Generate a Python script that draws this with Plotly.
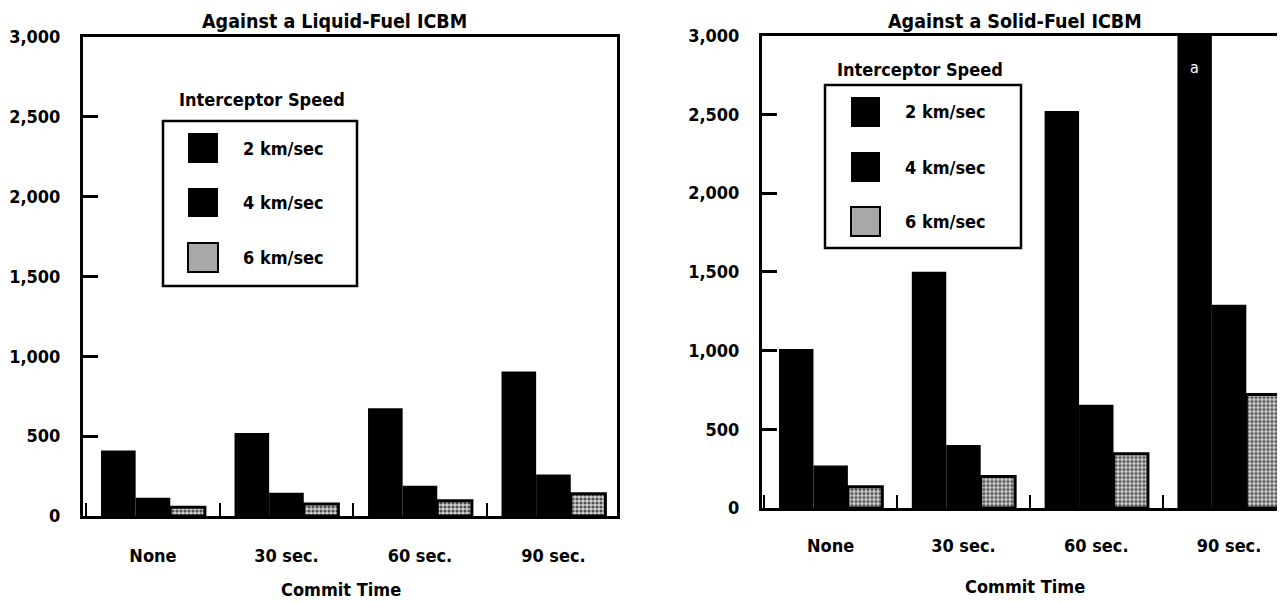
import plotly.graph_objects as go

# ---------------- data ----------------
categories = ["None", "30 sec.", "60 sec.", "90 sec."]
speeds = ["2 km/sec", "4 km/sec", "6 km/sec"]
liquid_2 = [410, 520, 675, 905]
liquid_4 = [115, 145, 190, 260]
liquid_6 = [55, 75, 95, 140]
solid_2 = [1010, 1500, 2520, 3000]   # last value off scale (footnote a)
solid_4 = [270, 400, 655, 1290]
solid_6 = [135, 200, 345, 720]
y_tickvals = [0, 500, 1000, 1500, 2000, 2500, 3000]
y_ticktext = ["0", "500", "1,000", "1,500", "2,000", "2,500", "3,000"]
titles = ["Against a Liquid-Fuel ICBM", "Against a Solid-Fuel ICBM"]
x_title = "Commit Time"
legend_title = "Interceptor Speed"
footnote = "a"

# ---------------- layout constants ----------------
OFF = 8                      # page offset of the plot div
W, H = 1285 - OFF, 602 - OFF
FONT = "DejaVu Sans Condensed, DejaVu Sans, sans-serif"
BARGAP = 0.222


def px(x):
    return (x - OFF) / W


def py(y):
    return 1 - (y - OFF) / H


GRAY = "#a8a8a8"


def bar_style(i):
    if i < 2:
        return dict(color="black", line=dict(width=0))
    return dict(color=GRAY, line=dict(color="black", width=3),
                pattern=dict(shape=".", fgcolor="#505050", bgcolor="#d2d2d2",
                             size=4, solidity=0.5))


fig = go.Figure()
panels = [
    ([liquid_2, liquid_4, liquid_6], "x", "y"),
    ([solid_2, solid_4, solid_6], "x2", "y2"),
]
for series, xa, ya in panels:
    for i, vals in enumerate(series):
        fig.add_trace(go.Bar(x=categories, y=vals, name=speeds[i], xaxis=xa, yaxis=ya,
                             marker=bar_style(i), showlegend=False, hoverinfo="x+y+name"))

axis_common = dict(showline=True, linecolor="black", showgrid=False, zeroline=False,
                   tickcolor="black", automargin=False)
fig.update_layout(
    template="none",
    width=W, height=H, autosize=False,
    margin=dict(l=0, r=0, t=0, b=0, pad=0),
    showlegend=False,
    paper_bgcolor="white", plot_bgcolor="white",
    font=dict(family=FONT, size=18, color="black", weight="bold"),
    barmode="group", bargap=BARGAP, bargroupgap=0,
    xaxis=dict(axis_common, domain=[px(83), px(617)], range=[-0.524, 3.476],
               type="category", tickson="boundaries", ticks="inside", ticklen=13,
               tickwidth=2, linewidth=3, mirror=True, ticklabelstandoff=21, anchor="y"),
    yaxis=dict(axis_common, domain=[py(516), py(37)], range=[0, 3000],
               tickvals=y_tickvals, ticktext=y_ticktext, ticks="inside", ticklen=15,
               tickwidth=2.5, linewidth=3, mirror=True, ticklabelstandoff=16, anchor="x"),
    xaxis2=dict(axis_common, domain=[px(762), 1], range=[-0.517, 3.421],
                type="category", tickson="boundaries", ticks="inside", ticklen=13,
                tickwidth=2, linewidth=3, mirror=True, ticklabelstandoff=19, anchor="y2"),
    yaxis2=dict(axis_common, domain=[py(508), py(35.5)], range=[0, 3000],
                tickvals=y_tickvals, ticktext=y_ticktext, ticks="inside", ticklen=15,
                tickwidth=2.5, linewidth=3, mirror=False, ticklabelstandoff=16, anchor="x2"),
)

annotations = []
shapes = []
# titles (anchored to the top of the figure so they are never clipped)
for t, cx in zip(titles, [334, 1015]):
    annotations.append(dict(text=t, x=px(cx), y=1, xref="paper", yref="paper",
                            showarrow=False, xanchor="center", yanchor="top",
                            font=dict(size=19.5)))
# axis titles
for cx, cy in [(341, 589), (1025, 586)]:
    annotations.append(dict(text=x_title, x=px(cx), y=py(cy), xref="paper", yref="paper",
                            showarrow=False, xanchor="center", yanchor="middle"))

# legends (drawn)
legends = [
    dict(box=(163, 121, 357, 286), title=(262, 100), sq_x=(188, 218),
         rows=[(133, 163), (188, 217), (243, 272)], text_x=241),
    dict(box=(825, 85, 1021, 248), title=(920, 70), sq_x=(851, 880),
         rows=[(97, 127), (152, 182), (207, 236)], text_x=903),
]
for lg in legends:
    x0, y0, x1, y1 = lg["box"]
    shapes.append(dict(type="rect", xref="paper", yref="paper", x0=px(x0), x1=px(x1),
                       y0=py(y1), y1=py(y0), line=dict(color="black", width=2.5),
                       fillcolor="white", layer="above"))
    annotations.append(dict(text=legend_title, x=px(lg["title"][0]), y=py(lg["title"][1]),
                            xref="paper", yref="paper", showarrow=False,
                            xanchor="center", yanchor="middle"))
    for i, (ry0, ry1) in enumerate(lg["rows"]):
        fill = "black" if i < 2 else GRAY
        shapes.append(dict(type="rect", xref="paper", yref="paper",
                           x0=px(lg["sq_x"][0]), x1=px(lg["sq_x"][1]),
                           y0=py(ry1), y1=py(ry0), fillcolor=fill,
                           line=dict(color="black", width=2 if i == 2 else 0),
                           layer="above"))
        annotations.append(dict(text=speeds[i], x=px(lg["text_x"]), y=py((ry0 + ry1) / 2),
                                xref="paper", yref="paper", showarrow=False,
                                xanchor="left", yanchor="middle"))

# footnote marker on the off-scale bar
bar_w = (1 - BARGAP) / 3
annotations.append(dict(text=footnote, x=3 - bar_w, y=py(67), xref="x2", yref="paper",
                        showarrow=False, xanchor="center", yanchor="middle",
                        font=dict(color="white", size=16, weight="normal")))

fig.update_layout(annotations=annotations, shapes=shapes)
fig.write_html("out.html")
